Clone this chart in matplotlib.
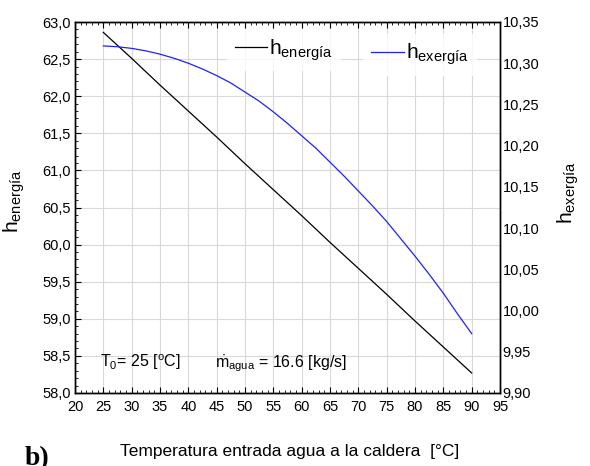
import matplotlib
matplotlib.use("Agg")
import matplotlib.pyplot as plt
from matplotlib import font_manager
from matplotlib.ticker import MultipleLocator, FuncFormatter
from matplotlib.lines import Line2D

# ---- data ----
temp_en = [25, 30, 35, 40, 45, 50, 55, 60, 65, 70, 75, 80, 85, 90]
h_energia = [62.86, 62.51, 62.15, 61.80, 61.45, 61.09, 60.74, 60.39,
             60.03, 59.68, 59.33, 58.97, 58.62, 58.27]
temp_ex = [25, 27.5, 30, 32.5, 35, 37.5, 40, 42.5, 45, 47.5, 50, 52.5, 55, 57.5,
           60, 62.5, 65, 67.5, 70, 72.5, 75, 77.5, 80, 82.5, 85, 87.5, 90]
h_exergia = [10.321, 10.320, 10.318, 10.315, 10.311, 10.306, 10.300, 10.293,
             10.285, 10.276, 10.265, 10.254, 10.241, 10.227, 10.212, 10.197,
             10.180, 10.163, 10.145, 10.127, 10.108, 10.087, 10.066, 10.044,
             10.021, 9.996, 9.972]
x_ticks = [20, 25, 30, 35, 40, 45, 50, 55, 60, 65, 70, 75, 80, 85, 90, 95]
label_energia = r"$\mathregular{h_{energía}}$"
label_exergia = r"$\mathregular{h_{exergía}}$"
xlabel = "Temperatura entrada agua a la caldera  [°C]"
note_T0 = r"$\mathregular{T_0}$= 25 [$\mathregular{^oC}$]"
note_m = r"$\mathregular{\dot{m}_{agua}}$ = 16.6 [kg/s]"

names = {f.name for f in font_manager.fontManager.ttflist}
fam = "Liberation Sans Narrow" if "Liberation Sans Narrow" in names else "Liberation Sans"
plt.rcParams['font.family'] = [fam, 'DejaVu Sans']
plt.rcParams['mathtext.fontset'] = 'custom'
plt.rcParams['mathtext.rm'] = fam
plt.rcParams['mathtext.it'] = fam

BLUE = '#2020ff'

fig = plt.figure(figsize=(5.9, 4.66), dpi=100)
ax = fig.add_axes([75/590, 1-393/466, 425/590, 371/466])
ax2 = ax.twinx()

ax.plot(temp_en, h_energia, color='black', lw=0.9)
ax2.plot(temp_ex, h_exergia, color=BLUE, lw=0.9)

ax.set_xlim(20, 95)
ax.set_ylim(58.0, 63.0)
ax2.set_ylim(9.90, 10.35)

ax.set_xticks(x_ticks)
ax.xaxis.set_minor_locator(MultipleLocator(1))
ax.yaxis.set_major_locator(MultipleLocator(0.5))
ax.yaxis.set_minor_locator(MultipleLocator(0.1))
ax2.yaxis.set_major_locator(MultipleLocator(0.05))

ax.yaxis.set_major_formatter(FuncFormatter(lambda v, p: f"{v:.1f}".replace('.', ',')))
ax2.yaxis.set_major_formatter(FuncFormatter(lambda v, p: f"{v:.2f}".replace('.', ',')))

ax.grid(True, which='major', color='#d9d9d9', lw=0.8)
ax.set_axisbelow(True)

ax.tick_params(axis='both', which='both', direction='in', top=True, right=False,
               labelsize=10.5)
ax.tick_params(axis='x', which='major', length=4, pad=5)
ax.tick_params(axis='y', which='major', length=4, pad=3)
ax.tick_params(which='minor', length=2.5)
ax2.tick_params(axis='y', length=0, pad=2, labelsize=10.5)

for sp in list(ax.spines.values()) + list(ax2.spines.values()):
    sp.set_linewidth(1.0)

ax.set_xlabel(xlabel, fontsize=12.5)
ax.xaxis.set_label_coords(0.506, -0.137)
ax.set_ylabel(label_energia, fontsize=15)
ax.yaxis.set_label_coords(-0.112, 0.517)
ax2.set_ylabel(label_exergia, fontsize=15)
ax2.yaxis.set_label_coords(1.13, 0.54)

h1 = [Line2D([0], [0], color='black', lw=0.9)]
h2 = [Line2D([0], [0], color=BLUE, lw=0.9)]
leg1 = ax2.legend(h1, [label_energia], loc='upper left', bbox_to_anchor=(0.347, 0.993),
                  frameon=True, fontsize=15, handlelength=1.55, handletextpad=0.1,
                  borderaxespad=0.2, fancybox=False)
leg1.get_frame().set_edgecolor('none')
ax2.add_artist(leg1)
leg2 = ax2.legend(h2, [label_exergia], loc='upper left', bbox_to_anchor=(0.668, 0.98),
                  frameon=True, fontsize=15, handlelength=1.55, handletextpad=0.1,
                  borderaxespad=0.2, fancybox=False)
leg2.get_frame().set_edgecolor('none')

ax.text(24.4, 58.35, note_T0, fontsize=11.5, va='baseline')
ax.text(44.7, 58.35, note_m, fontsize=11.5, va='baseline')

fig.text(0.042, 0.002, "b)", fontsize=20, fontweight='bold', family='Liberation Serif',
         va='baseline', ha='left')

fig.savefig("out.png", dpi=100)
